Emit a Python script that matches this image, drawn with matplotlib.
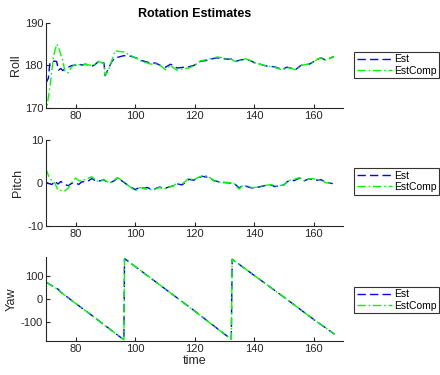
import matplotlib
matplotlib.use("Agg")
import matplotlib.pyplot as plt

plt.rcParams['font.family'] = ['Liberation Sans', 'DejaVu Sans']
plt.rcParams['axes.unicode_minus'] = False

# Roll (deg)
t_roll = [70, 70.3, 70.8, 71.35, 72, 72.5, 73.4, 73.6, 74.2, 75, 75.6, 76.4, 77.5, 78.7,
          80, 81, 82, 83.2, 84, 85.4, 86.5, 87.7, 88.8, 89.5, 89.9, 91, 92.2, 93.3, 94.5,
          96.1, 98.4, 100.6, 102, 104, 105.5, 106.8, 108.5, 110.2, 111.9, 113, 114.1,
          116.4, 118, 119.7, 122, 124.2, 126, 127.6, 129.5, 131, 132.5, 133.8, 135.5,
          137.2, 138.5, 140, 141.5, 143.4, 145, 146.8, 148, 149.5, 151, 152.4, 154,
          155.7, 157, 158.5, 160, 161.4, 162.5, 163.6, 165, 166.8]
roll_est = [175.8, 176.3, 177.0, 180.8, 181.0, 181.0, 181.0, 180.9, 178.9, 179.3, 178.8,
            179.2, 179.6, 180.0, 180.1, 180.4, 180.1, 180.3, 180.2, 179.8, 180.2, 181.0,
            180.5, 180.6, 177.6, 179.3, 181.0, 181.8, 182.0, 182.3, 182.2, 181.7, 181.2,
            180.8, 180.5, 180.6, 180.0, 179.6, 180.3, 179.8, 179.4, 179.6, 179.7, 180.0,
            181.0, 181.2, 181.6, 181.8, 181.6, 181.5, 181.5, 181.0, 181.3, 181.5, 181.2,
            180.7, 180.4, 180.0, 179.8, 179.7, 179.4, 179.1, 179.6, 179.4, 179.1, 180.0,
            180.2, 180.3, 180.9, 181.5, 181.8, 181.4, 181.6, 182.1]
roll_comp = [168.0, 170.0, 172.5, 175.0, 179.0, 182.0, 184.5, 185.0, 184.4, 182.5, 181.3,
             178.5, 178.3, 179.7, 180.3, 180.2, 180.1, 180.2, 180.2, 180.0, 180.2, 181.0,
             180.6, 180.4, 177.7, 178.8, 181.3, 183.5, 183.3, 183.2, 182.4, 181.6, 181.0,
             180.6, 180.3, 180.4, 180.0, 179.0, 180.1, 179.4, 178.9, 179.3, 179.4, 179.9,
             181.1, 181.4, 181.7, 182.0, 181.8, 181.6, 181.4, 180.9, 181.2, 181.6, 181.2,
             180.6, 180.4, 180.0, 179.8, 179.6, 179.3, 178.9, 179.5, 179.4, 178.9, 180.0,
             180.2, 180.3, 180.8, 181.6, 181.8, 181.2, 181.5, 182.2]

# Pitch (deg)
t_pitch = [70, 71, 72, 72.5, 73, 74, 75, 76.4, 77.5, 78.7, 80, 81, 82, 84, 85.4, 87, 88.5,
           89.4, 90.5, 91.6, 93, 94, 95, 96, 97.8, 100, 101.7, 103, 104, 105, 106.2,
           107.3, 108.3, 109.6, 110.8, 111.9, 113, 113.9, 115, 115.8, 117, 118, 119.7,
           121, 122.5, 124.2, 125.5, 126.5, 128.7, 131, 133.2, 134.9, 136, 137.7, 139,
           140, 141.5, 142.8, 144, 145.6, 147, 148.4, 150, 151.2, 152.5, 153.5, 155.2,
           156.9, 158.5, 159.7, 161, 162.5, 164.2, 166.4]
pitch_est = [0.2, -0.1, -0.3, 0.1, 0.5, -0.2, 0.4, -0.3, -0.6, 0.0, 0.1, -0.3, 0.3, 0.4,
             1.1, 0.4, 0.6, 0.8, 0.3, 0.1, 0.6, 1.2, 0.8, 0.3, -0.6, -1.5, -0.9, -1.2,
             -1.0, -1.3, -1.5, -1.1, -0.9, -1.3, -1.0, -0.8, -0.5, -0.1, -0.3, -0.4, 0.3,
             0.9, 0.7, 1.2, 1.6, 1.4, 1.0, 0.6, 0.2, 0.1, 0.0, -1.1, -0.6, -0.8, -1.1,
             -1.1, -0.9, -0.7, -0.5, -0.4, -0.8, -0.6, -0.4, 0.4, 0.7, 0.6, 1.2, 0.6, 1.0,
             0.9, 0.7, 0.8, 0.2, -0.1]
pitch_comp = [3.3, 1.5, 0.5, 0.3, 0.0, -1.6, -1.7, -1.8, -1.1, 0.2, 1.2, 0.6, 0.5, 1.1,
              1.5, 0.5, 0.5, 0.9, 0.4, 0.0, 0.7, 1.3, 0.9, 0.4, -0.6, -1.8, -1.0, -1.3,
              -1.4, -1.5, -1.6, -1.2, -1.0, -1.4, -1.1, -0.8, -0.6, 0.1, -0.2, -0.2, 0.5,
              1.2, 0.7, 1.3, 1.7, 1.7, 1.1, 0.5, 0.2, 0.2, 0.0, -1.4, -0.6, -0.6, -1.0,
              -1.0, -0.9, -0.6, -0.5, -0.3, -0.7, -0.6, -0.4, 0.5, 0.8, 0.9, 1.3, 0.5,
              1.0, 1.1, 0.8, 0.7, 0.1, -0.1]

# Yaw (deg)
t_yaw = [70, 73, 74, 75, 80, 85, 90, 96.2, 96.4, 100, 110, 120, 132.3, 132.6, 140, 150, 160, 167]
yaw_est = [75, 50, 44, 30, -20, -68, -118, -180, 178, 143, 45, -53, -178, 175, 104, 8, -90, -155]
yaw_comp = [75, 50, 42, 29, -20, -68, -119, -180, 178, 143, 45, -54, -178, 175, 104, 8, -90, -155]

fig = plt.figure(figsize=(4.4, 3.75), dpi=100)

left, width = 0.1045, 0.676
panels = [
    ("Roll", t_roll, roll_est, roll_comp, (170, 190), [170, 180, 190], 0.712, 0.2267, 0.8267),
    ("Pitch", t_pitch, pitch_est, pitch_comp, (-10, 10), [-10, 0, 10], 0.397, 0.229, 0.516),
    ("Yaw", t_yaw, yaw_est, yaw_comp, (-185, 185), [-100, 0, 100], 0.0907, 0.224, 0.2),
]

for i, (name, t, est, comp, ylim, yt, bottom, height, leg_y) in enumerate(panels):
    ax = fig.add_axes([left, bottom, width, height])
    ax.plot(t, est, color='b', linestyle=(0, (6, 3)), linewidth=1.0, label='Est')
    ax.plot(t, comp, color='#00ff00', linestyle=(0, (6, 2, 1.2, 2)), linewidth=1.0, label='EstComp')
    ax.set_xlim(70, 170)
    ax.set_ylim(*ylim)
    ax.set_xticks([80, 100, 120, 140, 160])
    ax.set_yticks(yt)
    ax.set_ylabel(name, fontsize=9, color='#262626', labelpad=2)
    ax.tick_params(direction='in', length=3, labelsize=8, colors='#262626', pad=2)
    for s in ['top', 'right']:
        ax.spines[s].set_visible(False)
    for s in ['left', 'bottom']:
        ax.spines[s].set_color('#262626')
        ax.spines[s].set_linewidth(0.8)
    leg = ax.legend(loc='center left', bbox_to_anchor=(0.8045, leg_y),
                    bbox_transform=fig.transFigure, fontsize=7.5, frameon=True,
                    fancybox=False, handlelength=3.4, handletextpad=0.2,
                    borderpad=0.25, labelspacing=0.1, borderaxespad=0)
    leg.get_frame().set_edgecolor('black')
    leg.get_frame().set_linewidth(0.8)
    if i == 0:
        ax.set_title('Rotation Estimates', fontsize=9, fontweight='bold', pad=4)
    if i == 2:
        ax.set_xlabel('time', fontsize=9, color='#262626', labelpad=1)

fig.savefig('out.png', dpi=100)
